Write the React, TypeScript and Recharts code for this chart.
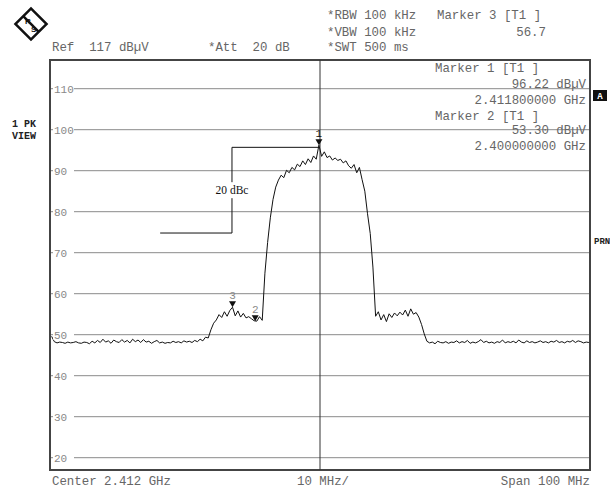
import { LineChart, Line, XAxis, YAxis, CartesianGrid, ReferenceLine, ReferenceDot, ReferenceArea } from "recharts";

// sweep: first point 2362.3 MHz, 0.5 MHz apart (200 points)
const FREQ_START = 2362.3;
const FREQ_STEP = 0.5;
const LEVELS = [
  49.6, 48.3, 48.0, 48.2, 48.1, 47.9, 48.2, 48.0, 48.1, 48.3,
  48.0, 47.9, 48.2, 48.1, 47.8, 48.4, 48.0, 48.6, 48.1, 48.9,
  48.2, 48.5, 47.9, 48.7, 48.3, 48.1, 48.8, 48.2, 48.6, 48.0,
  48.9, 48.3, 48.7, 48.1, 48.8, 48.2, 48.4, 47.9, 48.3, 48.6,
  48.0, 48.2, 47.9, 48.1, 48.0, 48.4, 48.1, 48.3, 48.0, 48.5,
  48.2, 48.4, 48.1, 48.6, 48.3, 48.9, 48.5, 49.4, 49.2, 51.2,
  52.8, 53.6, 54.9, 54.2, 55.6, 54.5, 55.9, 56.7, 54.6, 55.8,
  54.3, 55.2, 54.1, 54.4, 53.9, 53.4, 53.3, 54.4, 53.5, 65.0,
  72.5, 78.5, 83.0, 86.0, 87.7, 88.9, 88.3, 90.1, 89.5, 90.8,
  90.2, 91.6, 91.0, 92.4, 91.5, 92.9, 92.0, 93.6, 92.8, 96.22,
  93.5, 94.6, 93.2, 93.6, 92.6, 93.1, 92.5, 92.8, 91.9, 92.4,
  91.2, 90.6, 91.5, 89.5, 90.8, 87.8, 85.0, 79.5, 74.7, 66.5,
  54.5, 55.6, 53.6, 54.9, 53.2, 55.1, 54.2, 55.3, 54.6, 55.5,
  54.8, 56.0, 54.5, 56.3, 55.0, 55.4, 54.3, 52.5, 50.2, 48.4,
  48.0, 48.2, 47.8, 48.4, 48.1, 48.0, 48.3, 47.9, 48.2, 48.1,
  48.5, 48.0, 48.3, 48.1, 48.6, 47.9, 48.2, 48.0, 48.3, 48.8,
  48.1, 48.4, 48.0, 48.2, 47.9, 48.3, 48.1, 48.7, 48.0, 48.3,
  48.1, 48.4, 48.0, 48.7, 48.2, 48.0, 48.5, 48.1, 48.3, 48.0,
  48.2, 48.5, 48.1, 48.3, 48.0, 48.4, 48.2, 48.6, 48.1, 48.3,
  48.0, 48.4, 48.2, 48.6, 48.1, 48.5, 48.3, 48.0, 48.2, 48.1,
];

const Y_TICKS = [20, 30, 40, 50, 60, 70, 80, 90, 100, 110];
const X_TICKS = [2362, 2372, 2382, 2392, 2402, 2412, 2422, 2432, 2442, 2452, 2462];

const MARKER_IDS = ["1", "2", "3"];
const MARKER_FREQS = [2411.8, 2400.0, 2395.8];
const MARKER_LEVELS = [96.22, 53.3, 56.7];

// "20 dBc" bracket
const DBC_LEFT = 2382.4;
const DBC_X = 2395.7;
const DBC_TOP = 95.7;
const DBC_BOTTOM = 74.8;

const MONO = "'Liberation Mono', 'DejaVu Sans Mono', monospace";
const TXT = "#666";

const data = LEVELS.map((level, i) => ({ freq: FREQ_START + i * FREQ_STEP, level }));

function YTick({ y, payload }: any) {
  return (
    <g>
      <rect x={53} y={y - 5} width={21} height={10} fill="#fff" />
      <text x={54} y={y + 4} fontSize={11} fontFamily={MONO} fill="#888">
        {payload.value}
      </text>
    </g>
  );
}

function MarkerShape({ cx, cy, id }: any) {
  const color = id === "1" ? "#111" : "#888";
  return (
    <g>
      <polygon points={`${cx - 3.5},${cy - 6} ${cx + 3.5},${cy - 6} ${cx},${cy}`} fill="#111" />
      <text x={cx} y={cy - 8} fontSize={11} fontFamily={MONO} fill={color} textAnchor="middle">
        {id}
      </text>
    </g>
  );
}

function DbcLabel({ cx, cy }: any) {
  return (
    <g>
      <rect x={cx - 16} y={cy - 8} width={32} height={16} fill="#fff" />
      <text x={cx} y={cy + 4} fontSize={11.5} fontFamily="'Liberation Serif', serif" fill="#111" textAnchor="middle">
        20 dBc
      </text>
    </g>
  );
}

function Overlay() {
  const t = { fontFamily: MONO, fontSize: 12.4, fill: TXT } as any;
  return (
    <svg width={610} height={492} style={{ position: "absolute", left: 0, top: 0, pointerEvents: "none" }}>
      {/* R&S logo */}
      <g transform="translate(31,24) rotate(45)">
        <rect x={-11} y={-11} width={22} height={22} fill="#fff" stroke="#111" strokeWidth={2.5} />
        <line x1={-11} y1={0} x2={11} y2={0} stroke="#111" strokeWidth={2.5} />
      </g>
      <text x={25} y={24} fontSize={8} fontFamily="'Liberation Sans', sans-serif" fontWeight="bold" fill="#111">R</text>
      <text x={31} y={32} fontSize={8} fontFamily="'Liberation Sans', sans-serif" fontWeight="bold" fill="#111">S</text>

      <text {...t} x={327} y={19}>*RBW 100 kHz</text>
      <text {...t} x={327} y={36}>*VBW 100 kHz</text>
      <text {...t} x={327} y={51}>*SWT 500 ms</text>
      <text {...t} x={437} y={19} xmlSpace="preserve">Marker 3 [T1 ]</text>
      <text {...t} x={546} y={36} textAnchor="end">56.7</text>
      <text {...t} x={52} y={51} xmlSpace="preserve">Ref  117 dBµV</text>
      <text {...t} x={208} y={51} xmlSpace="preserve">*Att  20 dB</text>

      <text {...t} x={435} y={72} xmlSpace="preserve">Marker 1 [T1 ]</text>
      <text {...t} x={586} y={88} textAnchor="end">96.22 dBµV</text>
      <text {...t} x={586} y={104} textAnchor="end">2.411800000 GHz</text>
      <text {...t} x={435} y={120} xmlSpace="preserve">Marker 2 [T1 ]</text>
      <text {...t} x={586} y={134} textAnchor="end">53.30 dBµV</text>
      <text {...t} x={586} y={150} textAnchor="end">2.400000000 GHz</text>

      <text x={12} y={127} fontSize={10} fontFamily={MONO} fontWeight="bold" fill="#222" xmlSpace="preserve">1 PK</text>
      <text x={12} y={139} fontSize={10} fontFamily={MONO} fontWeight="bold" fill="#222">VIEW</text>
      <rect x={593} y={90} width={14} height={11} fill="#111" />
      <text x={600} y={99} fontSize={9} fontFamily={MONO} fontWeight="bold" fill="#fff" textAnchor="middle">A</text>
      <text x={594} y={244} fontSize={9} fontFamily={MONO} fontWeight="bold" fill="#222">PRN</text>

      <text {...t} x={52} y={485}>Center 2.412 GHz</text>
      <text {...t} x={297} y={485}>10 MHz/</text>
      <text {...t} x={590} y={485} textAnchor="end">Span 100 MHz</text>
    </svg>
  );
}

export default function App() {
  return (
    <div style={{ position: "absolute", left: 0, top: 0, width: 610, height: 492, background: "#fff" }}>
      <LineChart width={610} height={492} data={data} margin={{ top: 60, right: 20, bottom: 22, left: 49 }}>
        <CartesianGrid stroke="#8a8a8a" strokeWidth={1} />
        <XAxis
          type="number"
          dataKey="freq"
          domain={[2362, 2462]}
          ticks={X_TICKS}
          height={0}
          tick={false}
          axisLine={false}
          tickLine={false}
        />
        <YAxis
          type="number"
          domain={[17, 117]}
          ticks={Y_TICKS}
          interval={0}
          width={1}
          axisLine={false}
          tickLine={false}
          tick={(p: any) => <YTick {...p} />}
        />
        <ReferenceLine x={2412} stroke="#333" strokeWidth={1} />
        <ReferenceArea x1={2362} x2={2462} y1={17} y2={117} fill="none" fillOpacity={0} stroke="#444" strokeWidth={2} />
        <ReferenceLine segment={[{ x: DBC_LEFT, y: DBC_BOTTOM }, { x: DBC_X, y: DBC_BOTTOM }]} stroke="#111" />
        <ReferenceLine segment={[{ x: DBC_X, y: DBC_BOTTOM }, { x: DBC_X, y: DBC_TOP }]} stroke="#111" />
        <ReferenceLine segment={[{ x: DBC_X, y: DBC_TOP }, { x: MARKER_FREQS[0], y: DBC_TOP }]} stroke="#111" />
        <ReferenceDot x={DBC_X} y={(DBC_TOP + DBC_BOTTOM) / 2} shape={(p: any) => <DbcLabel {...p} />} ifOverflow="visible" />
        <Line
          type="linear"
          dataKey="level"
          stroke="#111"
          strokeWidth={1}
          dot={false}
          isAnimationActive={false}
        />
        {MARKER_IDS.map((id, i) => (
          <ReferenceDot
            key={id}
            x={MARKER_FREQS[i]}
            y={MARKER_LEVELS[i]}
            ifOverflow="visible"
            shape={(p: any) => <MarkerShape {...p} id={id} />}
          />
        ))}
      </LineChart>
      <Overlay />
    </div>
  );
}
